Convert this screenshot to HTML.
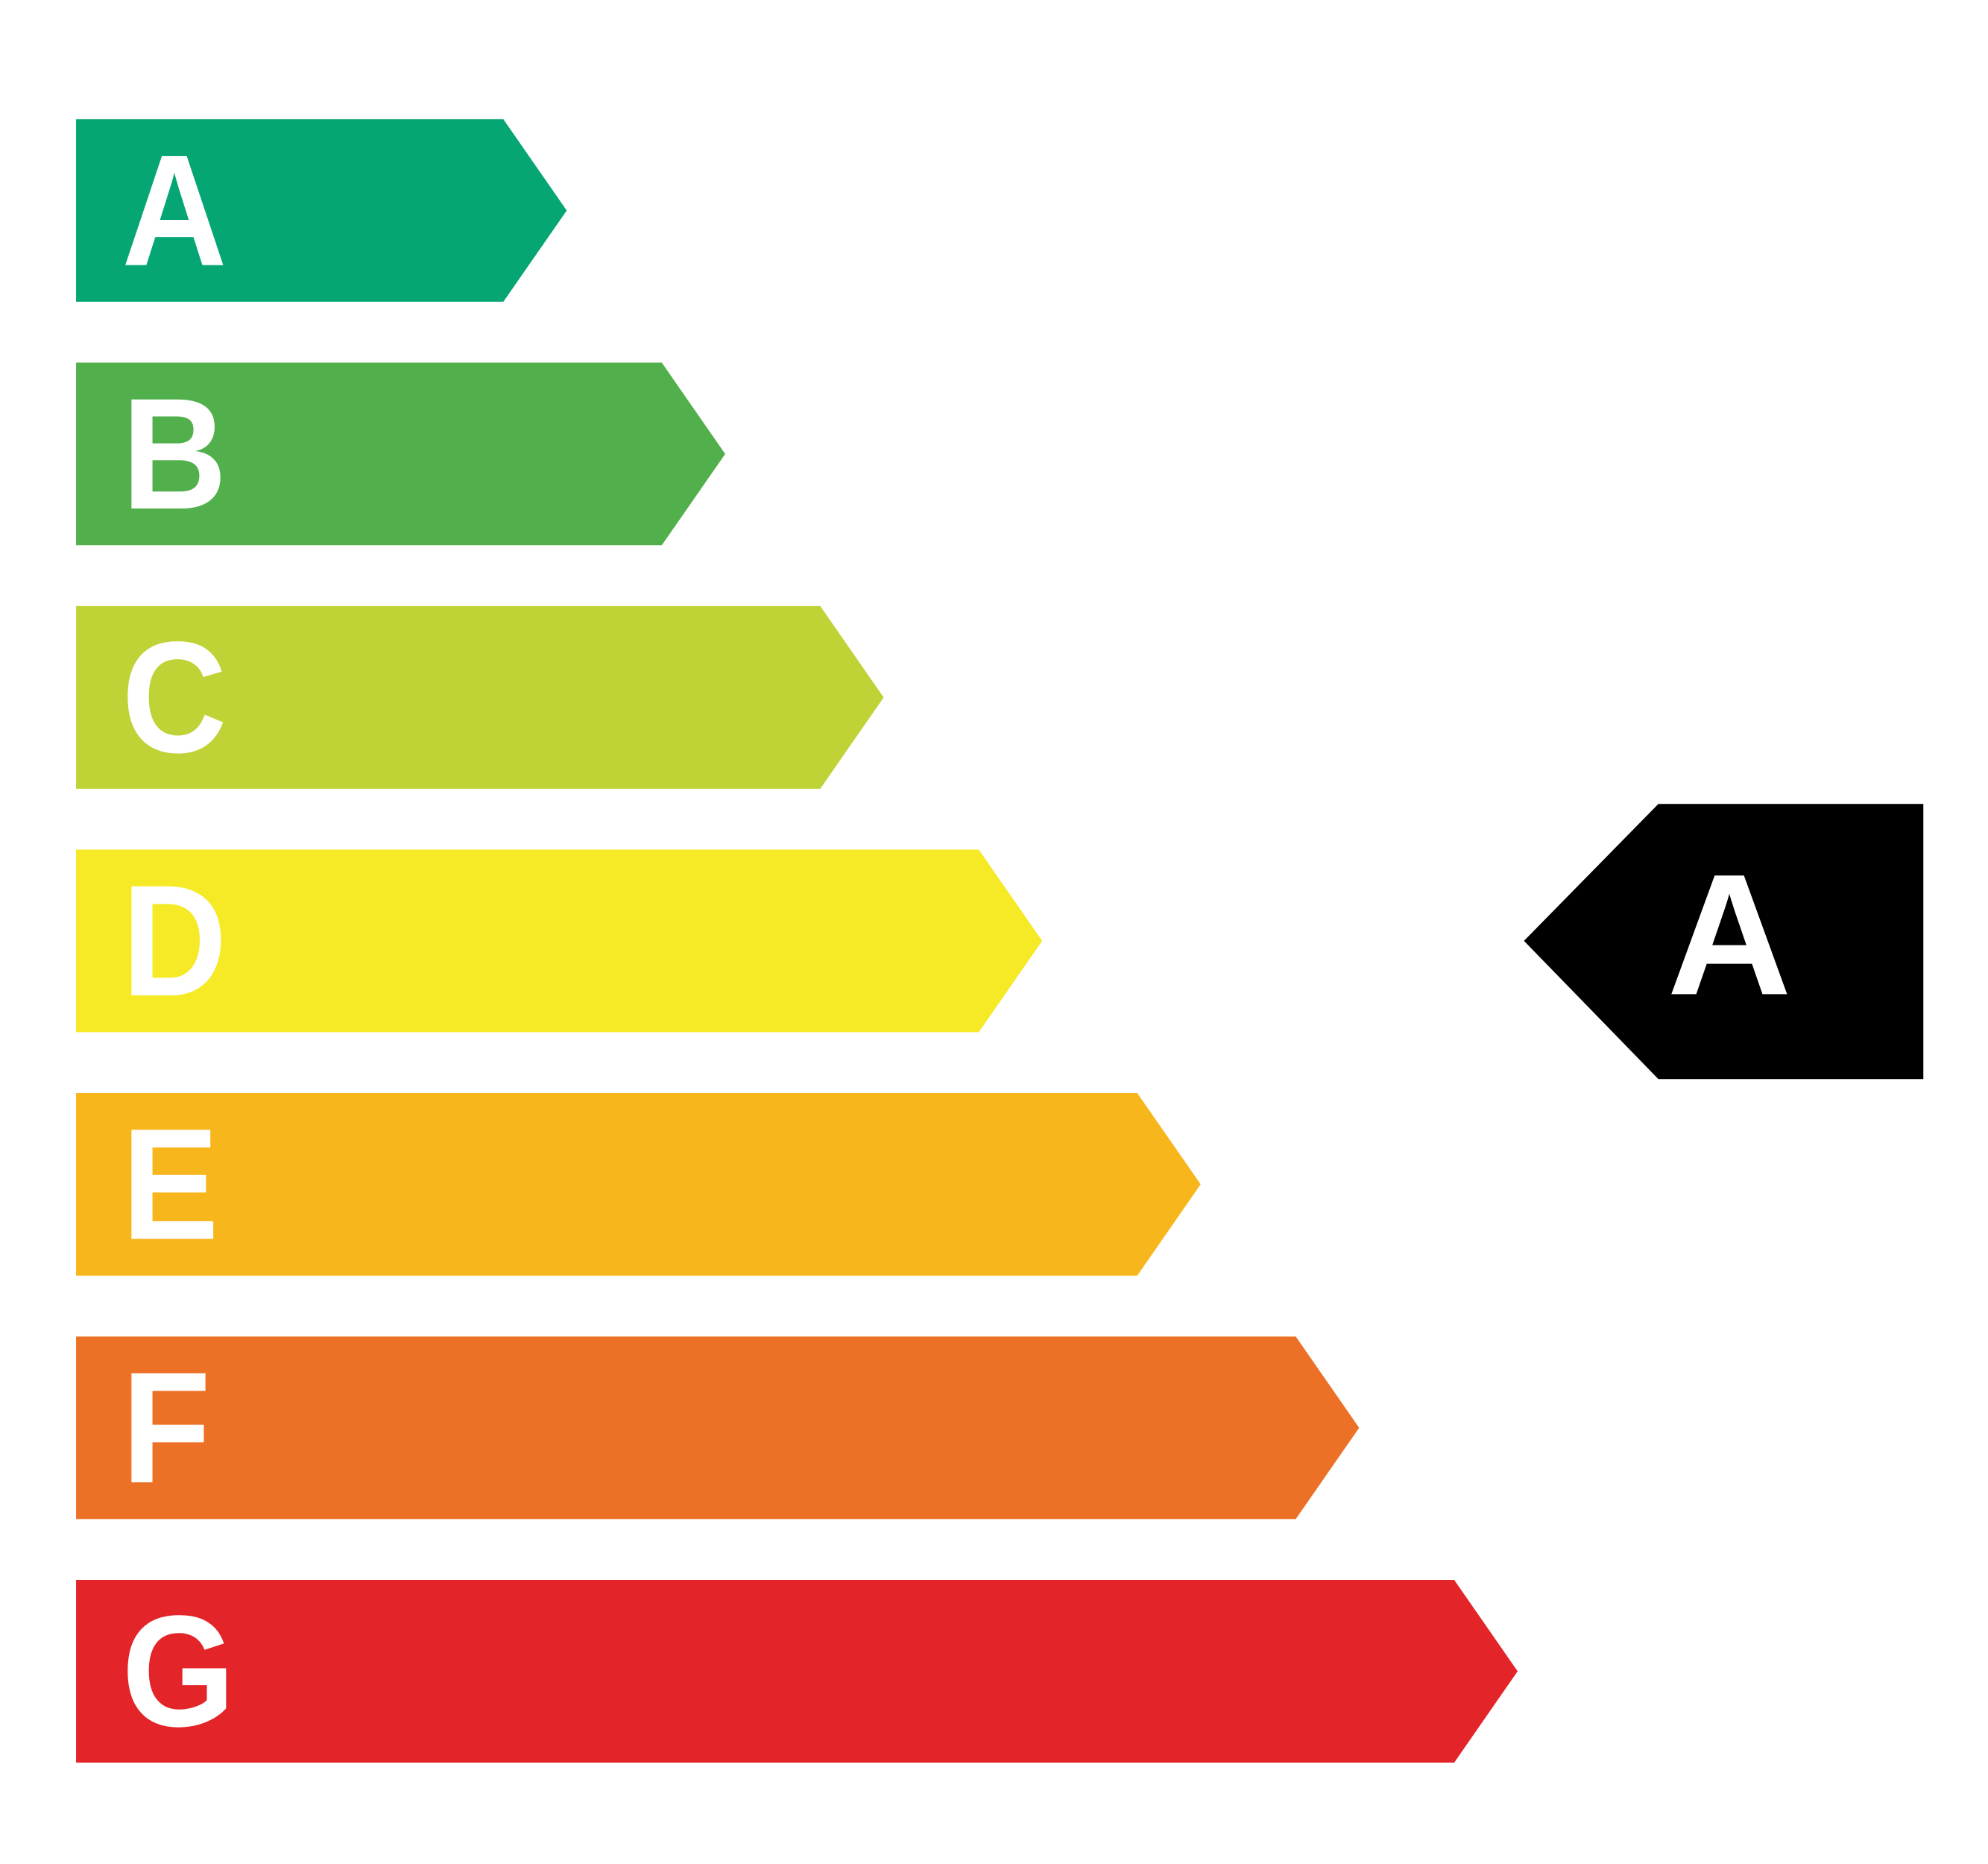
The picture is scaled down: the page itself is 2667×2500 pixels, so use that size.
<!DOCTYPE html>
<html><head><meta charset="utf-8"><style>
html,body{margin:0;padding:0;background:#fff;}
svg{display:block;}
text{font-family:"Liberation Sans",sans-serif;font-weight:bold;fill:#fff;}
</style></head>
<body>
<svg id="chart" width="2667" height="2500" viewBox="0 0 1568 1470" preserveAspectRatio="none" xmlns="http://www.w3.org/2000/svg">
<g id="bars"></g>
<g id="marker"></g>
</svg>
<script>
const categories = ["A","B","C","D","E","F","G"];
const barLengths = [337,462,587,712,837,962,1087];
const barColors = ["#06a674","#52b04c","#bfd337","#f6e926","#f8b61d","#ed7027","#e32428"];
const currentRating = ["A"];

const NS = "http://www.w3.org/2000/svg";
const x0 = 60, tipW = 50, bandTop = 94, bandStep = 192, bandH = 144;
function xScale(v){ return x0 + v; }
function yScale(i){ return bandTop + i * bandStep; }

const gBars = document.getElementById("bars");
categories.forEach((c, i) => {
  const y = yScale(i), xr = xScale(barLengths[i]);
  const p = document.createElementNS(NS, "polygon");
  p.setAttribute("points", `${x0},${y} ${xr},${y} ${xr+tipW},${y+bandH/2} ${xr},${y+bandH} ${x0},${y+bandH}`);
  p.setAttribute("fill", barColors[i]);
  
  
  gBars.appendChild(p);
  const t = document.createElementNS(NS, "text");
  t.setAttribute("x", 0);
  t.setAttribute("y", 0);
  t.setAttribute("font-size", 125);
  t.setAttribute("transform", `translate(96,${y + 115}) scale(0.92,1)`);
  t.textContent = c;
  
  
  gBars.appendChild(t);
});

const gM = document.getElementById("marker");
const idx = categories.indexOf(currentRating[0]);
const mp = document.createElementNS(NS, "polygon");
mp.setAttribute("points", "1202,742 1308,634 1517,634 1517,851 1308,851");
mp.setAttribute("fill", "#000");


gM.appendChild(mp);
const mt = document.createElementNS(NS, "text");
mt.setAttribute("x", 1364);
mt.setAttribute("y", 784);
mt.setAttribute("font-size", 136);
mt.setAttribute("text-anchor", "middle");
mt.textContent = categories[idx];


gM.appendChild(mt);
</script>
</body></html>
